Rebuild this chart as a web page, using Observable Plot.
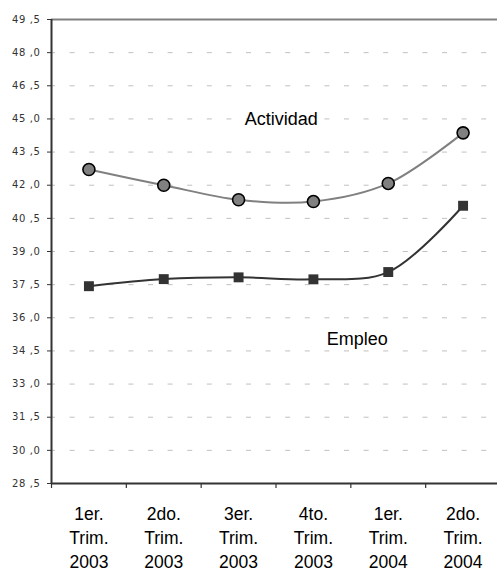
<!DOCTYPE html>
<html>
<head>
<meta charset="utf-8">
<script src="https://cdn.jsdelivr.net/npm/d3@7"></script>
<script src="https://cdn.jsdelivr.net/npm/@observablehq/plot@0.6"></script>
<style>
  html, body { margin: 0; padding: 0; background: #fff; }
  g[aria-label="y-axis tick label"] text { letter-spacing: 0.6px; }
</style>
</head>
<body>
<div id="chart"></div>
<script>
// ---- Data ----
const categories = [
  "1er.\nTrim.\n2003",
  "2do.\nTrim.\n2003",
  "3er.\nTrim.\n2003",
  "4to.\nTrim.\n2003",
  "1er.\nTrim.\n2004",
  "2do.\nTrim.\n2004"
];
const actividad = [42.71, 42.0, 41.34, 41.26, 42.08, 44.37];
const empleo = [37.43, 37.75, 37.83, 37.74, 38.07, 41.07];
const yTickValues = [28.5, 30, 31.5, 33, 34.5, 36, 37.5, 39, 40.5, 42, 43.5, 45, 46.5, 48, 49.5];
const yTickLabels = ["28 ,5", "30 ,0", "31 ,5", "33 ,0", "34 ,5", "36 ,0", "37 ,5", "39 ,0", "40 ,5", "42 ,0", "43 ,5", "45 ,0", "46 ,5", "48 ,0", "49 ,5"];
const seriesNames = ["Actividad", "Empleo"];

// category boundaries (band edges) and centers, as indices
const boundaries = categories.map((d, i) => i).concat([categories.length]);
const center = (d, i) => i + 0.5;
const yMin = yTickValues[0];
const yMax = yTickValues[yTickValues.length - 1];
const gridValues = yTickValues.slice(1, -1);

const chart = Plot.plot({
  width: 497,
  height: 573,
  marginLeft: 51,
  marginRight: 0,
  marginTop: 19,
  marginBottom: 90,
  style: { fontFamily: "'Liberation Sans', Arial, sans-serif", background: "#fff" },
  x: { type: "linear", domain: [0, categories.length], range: [51, 500] },
  y: { domain: [yMin, yMax], range: [483, 19] },
  marks: [
    // dashed gridlines
    Plot.ruleY(gridValues, { stroke: "#c0c0c0", strokeWidth: 1, strokeDasharray: "5,14.6", strokeDashoffset: 1 }),
    // top border
    Plot.ruleY([yMax], { stroke: "#808080", strokeWidth: 2 }),
    // y axis
    Plot.axisY({
      ticks: yTickValues,
      tickSize: 4,
      tickPadding: 7,
      tickFormat: d => yTickLabels[yTickValues.indexOf(d)],
      fontSize: 10,
      fontFamily: "'DejaVu Sans', Verdana, sans-serif",
      color: "#333",
      stroke: "#333"
    }),
    // x axis ticks at band edges
    Plot.axisX({
      ticks: boundaries,
      tickSize: 5,
      tickFormat: () => "",
      stroke: "#333",
      strokeWidth: 1.2
    }),
    Plot.ruleY([yMin], { stroke: "#333", strokeWidth: 2 }),
    Plot.ruleX([0], { stroke: "#333", strokeWidth: 2 }),
    // x labels
    Plot.text(categories, {
      x: center,
      frameAnchor: "bottom",
      lineAnchor: "top",
      dy: 19,
      fontSize: 17.5,
      lineHeight: 1.39,
      fill: "#000"
    }),
    // Actividad
    Plot.line(actividad, { x: center, y: d => d, curve: "catmull-rom", stroke: "#808080", strokeWidth: 2 }),
    Plot.dot(actividad, { x: center, y: d => d, r: 6, fill: "#808080", stroke: "#000", strokeWidth: 1.6 }),
    // Empleo
    Plot.line(empleo, { x: center, y: d => d, curve: "catmull-rom", stroke: "#333", strokeWidth: 2 }),
    Plot.dot(empleo, { x: center, y: d => d, symbol: "square", r: 5.6, fill: "#333", stroke: "none" }),
    // series labels
    Plot.text([seriesNames[0]], { x: 3.07, y: 44.97, text: d => d, fontSize: 18, fill: "#000" }),
    Plot.text([seriesNames[1]], { x: 4.085, y: 35.02, text: d => d, fontSize: 18, fill: "#000" })
  ]
});
document.getElementById("chart").appendChild(chart);
</script>
</body>
</html>
